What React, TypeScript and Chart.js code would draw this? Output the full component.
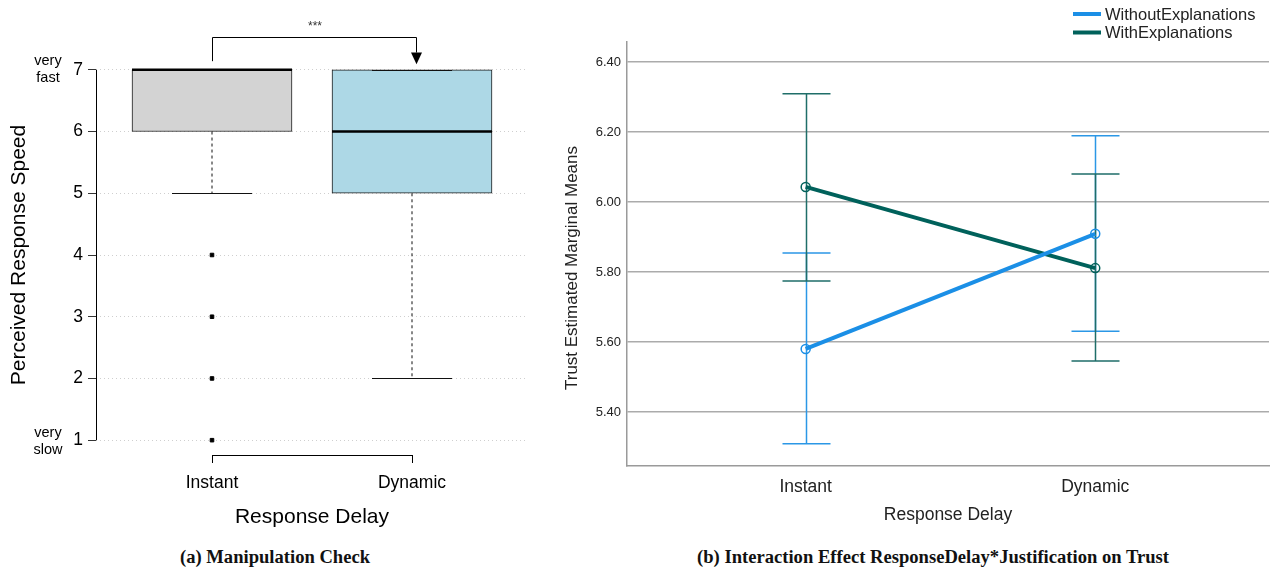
import React, { useEffect, useRef } from 'react';
import { Chart, registerables } from 'chart.js';

Chart.register(...registerables);

// ---------- Panel (a): box plot data ----------
const boxCategories = ['Instant', 'Dynamic'];
const boxQ1 = [6, 5];
const boxQ3 = [7, 7];
const boxMedian = [7, 6];
const whiskerLow = [5, 2];
const whiskerHigh = [7, 7];
const instantOutliers = [4, 3, 2, 1];
const speedTicks = [1, 2, 3, 4, 5, 6, 7];
const boxColors = ['#d3d3d3', '#add8e6'];

// ---------- Panel (b): interaction plot data ----------
const delayCategories = ['Instant', 'Dynamic'];
const seriesNames = ['WithoutExplanations', 'WithExplanations'];
const withoutMeans = [5.58, 5.909];
const withoutLower = [5.309, 5.631];
const withoutUpper = [5.854, 6.189];
const withMeans = [6.043, 5.811];
const withLower = [5.774, 5.546];
const withUpper = [6.309, 6.08];
const trustTicks = [5.4, 5.6, 5.8, 6.0, 6.2, 6.4];
const seriesColors = ['#1b8fe6', '#00615b'];

const SANS = '"Liberation Sans", Arial, sans-serif';

const boxExtras = {
  id: 'boxExtras',
  afterDatasetsDraw(chart: any) {
    const { ctx, scales } = chart;
    const x = scales.x;
    const y = scales.y;
    const meta = chart.getDatasetMeta(0);
    ctx.save();
    boxCategories.forEach((_, i) => {
      const el = meta.data[i];
      const cx = el.x;
      const half = el.width / 2;
      const capHalf = el.width / 4;
      // whiskers (dashed)
      ctx.strokeStyle = '#111';
      ctx.lineWidth = 1;
      ctx.setLineDash([3, 3]);
      if (whiskerLow[i] < boxQ1[i]) {
        ctx.beginPath();
        ctx.moveTo(cx, y.getPixelForValue(boxQ1[i]));
        ctx.lineTo(cx, y.getPixelForValue(whiskerLow[i]));
        ctx.stroke();
      }
      if (whiskerHigh[i] > boxQ3[i]) {
        ctx.beginPath();
        ctx.moveTo(cx, y.getPixelForValue(boxQ3[i]));
        ctx.lineTo(cx, y.getPixelForValue(whiskerHigh[i]));
        ctx.stroke();
      }
      ctx.setLineDash([]);
      // staples
      [whiskerLow[i], whiskerHigh[i]].forEach((w) => {
        const py = Math.round(y.getPixelForValue(w)) + 0.5;
        ctx.beginPath();
        ctx.moveTo(cx - capHalf, py);
        ctx.lineTo(cx + capHalf, py);
        ctx.stroke();
      });
      // median
      ctx.lineWidth = 2.5;
      ctx.strokeStyle = '#000';
      const my = y.getPixelForValue(boxMedian[i]);
      ctx.beginPath();
      ctx.moveTo(cx - half, my);
      ctx.lineTo(cx + half, my);
      ctx.stroke();
    });
    // y axis line from first to last tick (R style)
    ctx.lineWidth = 1;
    ctx.strokeStyle = '#000';
    const ax = Math.round(x.left) + 0.5;
    ctx.beginPath();
    ctx.moveTo(ax, y.getPixelForValue(speedTicks[0]));
    ctx.lineTo(ax, y.getPixelForValue(speedTicks[speedTicks.length - 1]));
    ctx.stroke();
    // x axis bracket line between first and last category
    const by = Math.round(y.bottom) + 0.5;
    ctx.beginPath();
    ctx.moveTo(x.getPixelForValue(1), by);
    ctx.lineTo(x.getPixelForValue(boxCategories.length), by);
    ctx.stroke();

    // anchor labels
    ctx.fillStyle = '#000';
    ctx.font = '14.5px ' + SANS;
    ctx.textAlign = 'center';
    ctx.textBaseline = 'middle';
    const lx = y.left + 48;
    const top = y.getPixelForValue(7);
    const bot = y.getPixelForValue(1);
    ctx.fillText('very', lx, top - 9);
    ctx.fillText('fast', lx, top + 8.5);
    ctx.fillText('very', lx, bot - 7);
    ctx.fillText('slow', lx, bot + 10);

    // significance bracket
    const x1 = x.getPixelForValue(1) + 0.5;
    const x2 = x.getPixelForValue(2.02) + 0.5;
    const yTop = Math.round(y.getPixelForValue(7.535)) + 0.5;
    const yLeft = y.getPixelForValue(7.14);
    const yArrowBase = y.getPixelForValue(7.28);
    const yArrowTip = y.getPixelForValue(7.09);
    ctx.strokeStyle = '#000';
    ctx.lineWidth = 1;
    ctx.beginPath();
    ctx.moveTo(x1, yLeft);
    ctx.lineTo(x1, yTop);
    ctx.lineTo(x2, yTop);
    ctx.lineTo(x2, yArrowBase);
    ctx.stroke();
    ctx.fillStyle = '#000';
    ctx.beginPath();
    ctx.moveTo(x2 - 5.5, yArrowBase);
    ctx.lineTo(x2 + 5.5, yArrowBase);
    ctx.lineTo(x2, yArrowTip);
    ctx.closePath();
    ctx.fill();
    ctx.fillStyle = '#333';
    ctx.font = '12px ' + SANS;
    ctx.fillText('***', x.getPixelForValue(1.515), y.getPixelForValue(7.7));
    ctx.restore();
  },
};

const errorBars = {
  id: 'errorBars',
  beforeDatasetsDraw(chart: any) {
    const { ctx, scales } = chart;
    const x = scales.x;
    const y = scales.y;
    const lows = [withoutLower, withLower];
    const highs = [withoutUpper, withUpper];
    ctx.save();
    ctx.lineWidth = 1.5;
    [0, 1].forEach((s) => {
      ctx.strokeStyle = s === 0 ? '#2b97e6' : '#1f6e69';
      delayCategories.forEach((_, i) => {
        const cx = Math.round(x.getPixelForValue(i)) + 0.5;
        const yl = y.getPixelForValue(lows[s][i]);
        const yh = y.getPixelForValue(highs[s][i]);
        ctx.beginPath();
        ctx.moveTo(cx, yl);
        ctx.lineTo(cx, yh);
        ctx.moveTo(cx - 24, yl);
        ctx.lineTo(cx + 24, yl);
        ctx.moveTo(cx - 24, yh);
        ctx.lineTo(cx + 24, yh);
        ctx.stroke();
      });
    });
    ctx.restore();
  },
  afterDraw(chart: any) {
    const { ctx, scales } = chart;
    const y = scales.y;
    ctx.save();
    // legend
    chart.data.datasets.forEach((ds: any, i: number) => {
      const ly = 14 + i * 18.5;
      ctx.strokeStyle = ds.borderColor;
      ctx.lineWidth = 4;
      ctx.beginPath();
      ctx.moveTo(528, ly);
      ctx.lineTo(556, ly);
      ctx.stroke();
      ctx.fillStyle = '#222';
      ctx.font = '16.5px ' + SANS;
      ctx.textAlign = 'left';
      ctx.textBaseline = 'middle';
      ctx.fillText(ds.label, 560, ly + 1);
    });
    // y axis title
    ctx.translate(27, (y.top + y.bottom) / 2 + 14);
    ctx.rotate(-Math.PI / 2);
    ctx.fillStyle = '#222';
    ctx.font = '17px ' + SANS;
    ctx.textAlign = 'center';
    ctx.textBaseline = 'middle';
    ctx.fillText('Trust Estimated Marginal Means', 0, 0);
    ctx.restore();
  },
};

function BoxPanel() {
  const ref = useRef<HTMLCanvasElement>(null);
  useEffect(() => {
    if (!ref.current) return;
    const chart = new Chart(ref.current, {
      type: 'bar',
      data: {
        datasets: [
          {
            label: 'IQR',
            data: boxCategories.map((_, i) => ({ x: i + 1, y: [boxQ1[i], boxQ3[i]] })) as any,
            backgroundColor: boxColors,
            borderColor: '#1a1a1a',
            borderWidth: 1,
            borderSkipped: false,
            barThickness: 160,
          } as any,
          {
            type: 'scatter',
            label: 'Outliers',
            data: instantOutliers.map((v) => ({ x: 1, y: v })),
            pointRadius: 2.5,
            pointStyle: 'rect',
            backgroundColor: '#000',
            borderColor: '#000',
            borderWidth: 1,
          } as any,
        ],
      },
      plugins: [boxExtras],
      options: {
        animation: false,
        responsive: false,
        maintainAspectRatio: false,
        layout: { padding: { top: 55, right: 17, left: 0, bottom: 0 } },
        plugins: { legend: { display: false }, tooltip: { enabled: false } },
        scales: {
          x: {
            type: 'linear',
            min: 0.42,
            max: 2.58,
            offset: false,
            afterBuildTicks: (s: any) => {
              s.ticks = boxCategories.map((_, i) => ({ value: i + 1 }));
            },
            afterFit: (s: any) => {
              s.height = 85;
            },
            ticks: {
              callback: (v: any) => boxCategories[Math.round(v) - 1] ?? '',
              font: { family: SANS, size: 17.5 },
              color: '#000',
              padding: 10,
              autoSkip: false,
              maxRotation: 0,
            },
            grid: { drawOnChartArea: false, drawTicks: true, tickLength: 8, tickColor: '#000', tickWidth: 1, offset: false },
            border: { display: false },
            title: {
              display: true,
              text: 'Response Delay',
              font: { family: SANS, size: 21 },
              color: '#000',
              padding: { top: 0, bottom: 10 },
            },
          } as any,
          y: {
            type: 'linear',
            min: 0.76,
            max: 7.24,
            afterBuildTicks: (s: any) => {
              s.ticks = speedTicks.map((v) => ({ value: v }));
            },
            afterFit: (s: any) => {
              s.width = 96;
            },
            ticks: {
              callback: (v: any) => String(v),
              font: { family: SANS, size: 17.5 },
              color: '#000',
              padding: 5,
            },
            grid: { color: '#cfcfcf', lineWidth: 1, tickColor: '#333', tickLength: 8, tickBorderDash: [] },
            border: { display: false, dash: [1, 3] },
            title: {
              display: true,
              text: 'Perceived Response Speed',
              font: { family: SANS, size: 21 },
              color: '#000',
              padding: { top: 7, bottom: 0 },
            },
          } as any,
        },
      },
    });
    return () => chart.destroy();
  }, []);
  return (
    <canvas
      ref={ref}
      width={545}
      height={540}
      style={{ position: 'absolute', left: 0, top: 0, width: 545, height: 540 }}
    />
  );
}

function InteractionPanel() {
  const ref = useRef<HTMLCanvasElement>(null);
  useEffect(() => {
    if (!ref.current) return;
    const means = [withoutMeans, withMeans];
    const chart = new Chart(ref.current, {
      type: 'line',
      data: {
        datasets: seriesNames.map((name, s) => ({
          label: name,
          data: delayCategories.map((_, i) => ({ x: i, y: means[s][i] })),
          borderColor: seriesColors[s],
          backgroundColor: seriesColors[s],
          borderWidth: 4,
          pointRadius: 4.5,
          pointBorderWidth: 1.5,
          pointBackgroundColor: 'rgba(255,255,255,0)',
          pointBorderColor: seriesColors[s],
          tension: 0,
        })),
      },
      plugins: [errorBars],
      options: {
        animation: false,
        responsive: false,
        maintainAspectRatio: false,
        layout: { padding: { top: 42, right: 5, left: 0, bottom: 0 } },
        plugins: { legend: { display: false }, tooltip: { enabled: false } },
        scales: {
          x: {
            type: 'linear',
            min: -0.617,
            max: 1.6,
            afterBuildTicks: (s: any) => {
              s.ticks = delayCategories.map((_, i) => ({ value: i }));
            },
            afterFit: (s: any) => {
              s.height = 74;
            },
            ticks: {
              callback: (v: any) => delayCategories[Math.round(v)] ?? '',
              font: { family: SANS, size: 17.5 },
              color: '#222',
              padding: 11,
              autoSkip: false,
              maxRotation: 0,
            },
            grid: { drawOnChartArea: false, drawTicks: false, offset: false },
            border: { display: true, color: '#9a9a9a', width: 1.5 },
            title: {
              display: true,
              text: 'Response Delay',
              font: { family: SANS, size: 17.5 },
              color: '#222',
              padding: { top: 0, bottom: 14 },
            },
          } as any,
          y: {
            type: 'linear',
            min: 5.2457,
            max: 6.457,
            afterBuildTicks: (s: any) => {
              s.ticks = trustTicks.map((v) => ({ value: v }));
            },
            afterFit: (s: any) => {
              s.width = 82;
            },
            ticks: {
              callback: (v: any) => Number(v).toFixed(2),
              font: { family: SANS, size: 13 },
              color: '#222',
              padding: 6,
            },
            grid: { color: '#ababab', lineWidth: 1.5, drawTicks: false },
            border: { display: true, color: '#9a9a9a', width: 1.5 },
          } as any,
        },
      },
    });
    return () => chart.destroy();
  }, []);
  return (
    <canvas
      ref={ref}
      width={730}
      height={540}
      style={{ position: 'absolute', left: 545, top: 0, width: 730, height: 540 }}
    />
  );
}

const captionStyle: React.CSSProperties = {
  position: 'absolute',
  top: 545,
  height: 24,
  lineHeight: '24px',
  textAlign: 'center',
  fontFamily: '"Liberation Serif", "Times New Roman", serif',
  fontWeight: 'bold',
  fontSize: 18.6,
  color: '#111',
  whiteSpace: 'nowrap',
};

export default function App() {
  return (
    <div
      style={{
        position: 'absolute',
        left: 0,
        top: 0,
        width: 1275,
        height: 571,
        background: '#fff',
        overflow: 'hidden',
      }}
    >
      <BoxPanel />
      <InteractionPanel />
      <div style={{ ...captionStyle, left: 0, width: 550 }}>(a) Manipulation Check</div>
      <div style={{ ...captionStyle, left: 633, width: 600 }}>
        (b) Interaction Effect ResponseDelay*Justification on Trust
      </div>
    </div>
  );
}
